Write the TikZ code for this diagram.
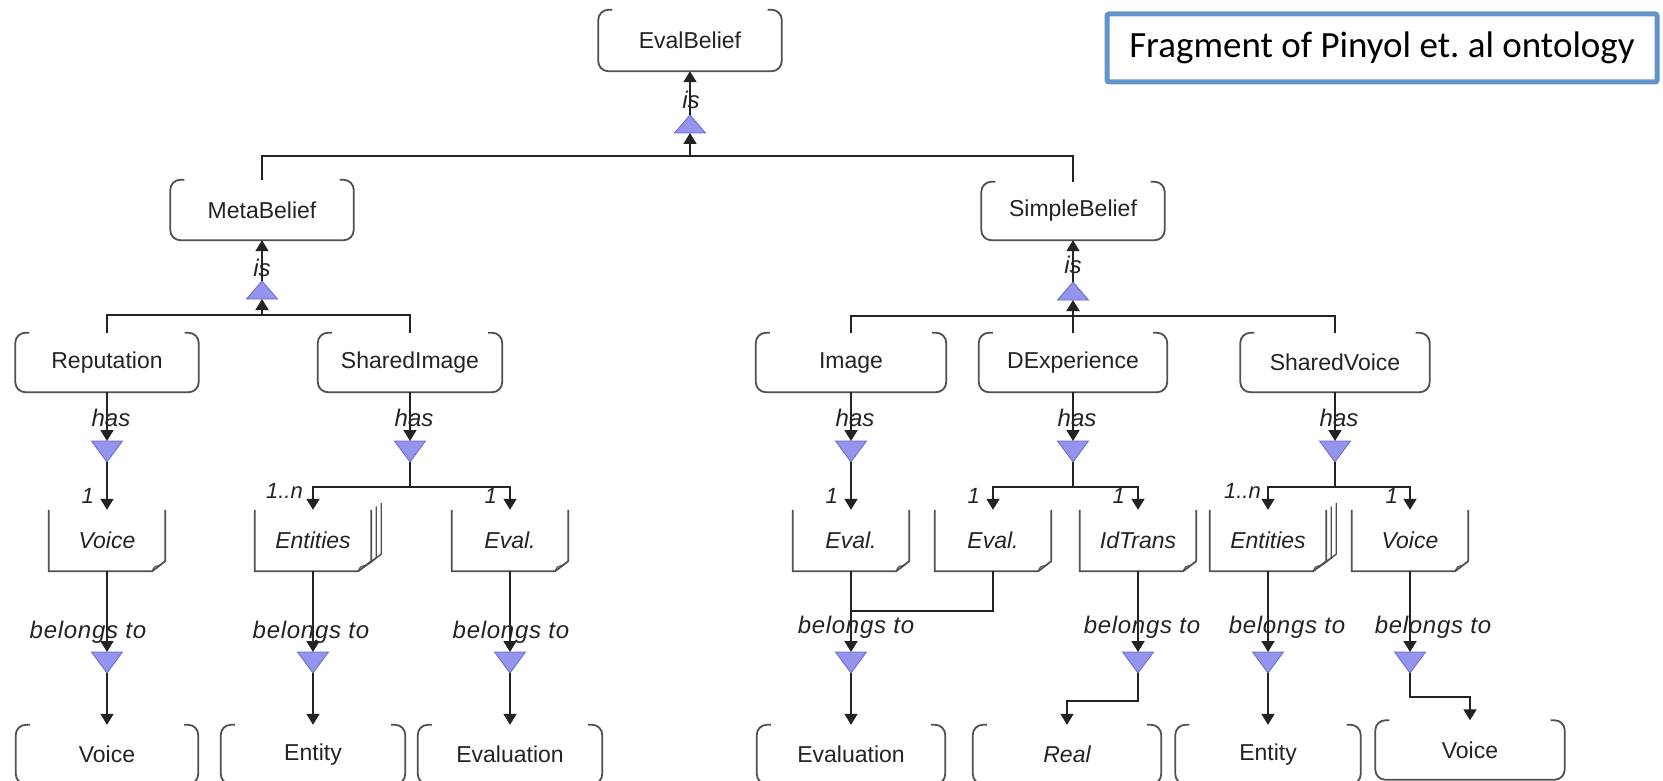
\documentclass[tikz,border=0pt]{standalone}
\usepackage{fontspec}
\setmainfont{Liberation Sans}
\newfontfamily\captionfont{Carlito}
\newfontfamily\relfont[LetterSpace=3]{Liberation Sans}
\usetikzlibrary{arrows.meta,calc}

\definecolor{ink}{RGB}{35,35,35}
\definecolor{edge}{RGB}{80,80,80}
\definecolor{trifill}{RGB}{148,148,238}
\definecolor{triedge}{RGB}{105,105,200}
\definecolor{framecol}{RGB}{98,148,204}

\tikzset{
  ln/.style={line width=1.8pt, draw=ink},
  arr/.style={ln, -{Triangle[width=13pt,length=11pt]}},
  boxline/.style={line width=1.8pt, draw=edge, rounded corners=10pt},
  noteline/.style={line width=1.8pt, draw=edge, line join=miter},
  cls/.style={inner sep=0pt, font=\fontsize{23}{26}\selectfont, text=ink, minimum height=#1},
  cls/.default=60pt,
  inst/.style={inner sep=0pt, font=\fontsize{23}{26}\selectfont\itshape, text=ink,
    minimum width=116pt, minimum height=61pt},
  rel/.style={inner sep=0pt, font=\fontsize{24}{26}\selectfont\itshape, text=ink},
  belong/.style={inner sep=0pt, font=\relfont\fontsize{24}{26}\selectfont\itshape, text=ink},
  card/.style={inner sep=0pt, font=\fontsize{22}{24}\selectfont\itshape, text=ink, anchor=east},
  tri/.style={fill=trifill, draw=triedge, line width=0.8pt, line join=miter},
}

% class box: rounded outline, open along the top edge
\newcommand\openbox[1]{\draw[boxline] ([xshift=14pt]#1.north west) -- (#1.north west)
  -- (#1.south west) -- (#1.south east) -- (#1.north east) -- ([xshift=-14pt]#1.north east);}
% instance note: open top, folded lower right corner
\newcommand\notebox[1]{%
  \draw[noteline] (#1.north west) -- (#1.south west) -- ([xshift=-13pt]#1.south east)
    -- ([yshift=10pt]#1.south east) -- (#1.north east);
  \draw[line width=1pt, draw=edge] ([xshift=-13pt]#1.south east)
    .. controls ([xshift=-11pt,yshift=5pt]#1.south east) .. ([xshift=-4pt,yshift=6pt]#1.south east);}
% stacked notes for collections
\newcommand\stackbox[1]{\notebox{#1}%
  \foreach \d/\e in {5/3.5,10/7}{%
    \draw[line width=1.4pt, draw=edge] ([shift={(\d pt,\e pt)}]#1.north east)
      -- ([shift={(\d pt,10pt+\e pt)}]#1.south east) -- ([shift={(\d pt-13pt,\e pt)}]#1.south east);}}
% relation triangles
\newcommand\tridown[3]{%
  \coordinate (#1-in) at (#2,#3); \coordinate (#1-out) at (#2,#3+21);
  \filldraw[tri] (#2-15.5,#3) -- (#2+15.5,#3) -- (#2,#3+21) -- cycle;}
\newcommand\triup[3]{%
  \coordinate (#1-in) at (#2,#3); \coordinate (#1-out) at (#2,#3-18);
  \filldraw[tri] (#2-15.5,#3) -- (#2+15.5,#3) -- (#2,#3-18) -- cycle;}

\begin{document}
\begin{tikzpicture}[x=1pt,y=-1pt]
\useasboundingbox (0,0) rectangle (1663,781);
\fill[white] (0,0) rectangle (1663,781);
\clip (0,0) rectangle (1663,781);

% ---- classes
\node[cls=61pt, minimum width=183pt] (evalbelief) at (690,40.5) {EvalBelief};
\node[cls, minimum width=183pt] (metabelief) at (262,210) {MetaBelief};
\node[cls=58pt, minimum width=183pt] (simplebelief) at (1073,211) {SimpleBelief};

\node[cls=59pt, minimum width=183pt] (reputation) at (107,362.5) {Reputation};
\node[cls=59pt, minimum width=184pt] (sharedimage) at (410,362.5) {SharedImage};
\node[cls=59pt, minimum width=190pt] (image) at (851,362.5) {Image};
\node[cls=59pt, minimum width=188pt] (dexperience) at (1073,362.5) {DExperience};
\node[cls=59pt, minimum width=189pt] (sharedvoice) at (1335,362.5) {SharedVoice};

\node[cls=59pt, minimum width=182pt] (voiceC) at (107,754.5) {Voice};
\node[cls=59pt, minimum width=184pt] (entityC) at (313,754.5) {Entity};
\node[cls=59pt, minimum width=184pt] (evaluationC) at (510,754.5) {Evaluation};
\node[cls=59pt, minimum width=188pt] (evaluationR) at (851,754.5) {Evaluation};
\node[cls=59pt, minimum width=188pt] (real) at (1067,754.5) {\itshape Real};
\node[cls=59pt, minimum width=185pt] (entityR) at (1268,754.5) {Entity};
\node[cls=59pt, minimum width=189pt] (voiceR) at (1470,750) {Voice};

\foreach \n in {evalbelief,metabelief,simplebelief,reputation,sharedimage,image,
  dexperience,sharedvoice,voiceC,entityC,evaluationC,evaluationR,real,entityR,voiceR}
  {\openbox{\n}}

% ---- instances
\node[inst] (voiceA) at (107,540.5) {Voice};
\node[inst] (entA) at (313,540.5) {Entities};
\node[inst] (evalA) at (510,540.5) {Eval.};
\node[inst] (evalB) at (851,540.5) {Eval.};
\node[inst] (evalC) at (993,540.5) {Eval.};
\node[inst] (idtrans) at (1138,540.5) {IdTrans};
\node[inst] (entB) at (1268,540.5) {Entities};
\node[inst] (voiceB) at (1410,540.5) {Voice};
\foreach \n in {voiceA,evalA,evalB,evalC,idtrans,voiceB} {\notebox{\n}}
\stackbox{entA}
\stackbox{entB}

% ---- relation triangles
\triup{tE}{690}{133}
\triup{tM}{262}{299}
\triup{tS}{1073}{300}
\tridown{hR}{107}{441}
\tridown{hSI}{410}{441}
\tridown{hIm}{851}{441}
\tridown{hDE}{1073}{441}
\tridown{hSV}{1335}{441}
\tridown{bV1}{107}{652}
\tridown{bEn1}{313}{652}
\tridown{bEv1}{510}{652}
\tridown{bEv}{851}{652}
\tridown{bId}{1138}{652}
\tridown{bEn2}{1268}{652}
\tridown{bV2}{1410}{652}

% ---- "is" hierarchy
\coordinate (barE) at (690,156);
\draw[ln] (metabelief.north) |- (barE) -| (simplebelief.north);
\draw[arr] (barE) -- (tE-in);
\draw[arr] (tE-out) -- (evalbelief.south);
\node[rel] at (691,100) {is};

\coordinate (barM) at (262,315);
\draw[ln] (reputation.north) |- (barM) -| (sharedimage.north);
\draw[arr] (barM) -- (tM-in);
\draw[arr] (tM-out) -- (metabelief.south);
\node[rel] at (262,268) {is};

\coordinate (barS) at (1073,316);
\draw[ln] (image.north) |- (barS) -| (sharedvoice.north);
\draw[ln] (dexperience.north) -- (barS);
\draw[arr] (barS) -- (tS-in);
\draw[arr] (tS-out) -- (simplebelief.south);
\node[rel] at (1073,265) {is};

% ---- "has" relations
\draw[arr] (reputation.south) -- (hR-in);
\draw[arr] (hR-out) -- (voiceA.north);
\node[rel] at (111,418) {has};
\node[card] at (94,496) {1};

\draw[arr] (sharedimage.south) -- (hSI-in);
\coordinate (barSI) at (410,487);
\draw[ln] (hSI-out) -- (barSI);
\draw[arr] (barSI) -| (entA.north);
\draw[arr] (barSI) -| (evalA.north);
\node[rel] at (414,418) {has};
\node[card] at (303,491) {1..n};
\node[card] at (497,496) {1};

\draw[arr] (image.south) -- (hIm-in);
\draw[arr] (hIm-out) -- (evalB.north);
\node[rel] at (855,418) {has};
\node[card] at (838,496) {1};

\draw[arr] (dexperience.south) -- (hDE-in);
\coordinate (barDE) at (1073,487);
\draw[ln] (hDE-out) -- (barDE);
\draw[arr] (barDE) -| (evalC.north);
\draw[arr] (barDE) -| (idtrans.north);
\node[rel] at (1077,418) {has};
\node[card] at (980,496) {1};
\node[card] at (1125,496) {1};

\draw[arr] (sharedvoice.south) -- (hSV-in);
\coordinate (barSV) at (1335,487);
\draw[ln] (hSV-out) -- (barSV);
\draw[arr] (barSV) -| (entB.north);
\draw[arr] (barSV) -| (voiceB.north);
\node[rel] at (1339,418) {has};
\node[card] at (1261,491) {1..n};
\node[card] at (1398,496) {1};

% ---- "belongs to" relations
\draw[arr] (voiceA.south) -- (bV1-in);
\draw[arr] (bV1-out) -- (voiceC.north);
\node[belong] at (88,632) {belongs to};

\draw[arr] (entA.south) -- (bEn1-in);
\draw[arr] (bEn1-out) -- (entityC.north);
\node[belong] at (311,632) {belongs to};

\draw[arr] (evalA.south) -- (bEv1-in);
\draw[arr] (bEv1-out) -- (evaluationC.north);
\node[belong] at (511,632) {belongs to};

\coordinate (joinC) at (851,611);
\draw[ln] (evalC.south) |- (joinC);
\draw[arr] (evalB.south) -- (bEv-in);
\draw[arr] (bEv-out) -- (evaluationR.north);
\node[belong] at (856,627) {belongs to};

\draw[arr] (idtrans.south) -- (bId-in);
\draw[arr] (bId-out) |- ($(real.north)+(0,-24)$) -- (real.north);
\node[belong] at (1142,627) {belongs to};

\draw[arr] (entB.south) -- (bEn2-in);
\draw[arr] (bEn2-out) -- (entityR.north);
\node[belong] at (1287,627) {belongs to};

\draw[arr] (voiceB.south) -- (bV2-in);
\draw[arr] (bV2-out) |- ($(voiceR.north)+(0,-23)$) -- (voiceR.north);
\node[belong] at (1433,627) {belongs to};

% ---- caption frame
\node[draw=framecol, line width=5pt, rounded corners=2pt, minimum width=550pt,
  minimum height=68pt, inner sep=0pt, text=black,
  font=\captionfont\fontsize{37}{40}\selectfont] (caption) at (1382,48)
  {Fragment of Pinyol et.\ al ontology};
\end{tikzpicture}
\end{document}
